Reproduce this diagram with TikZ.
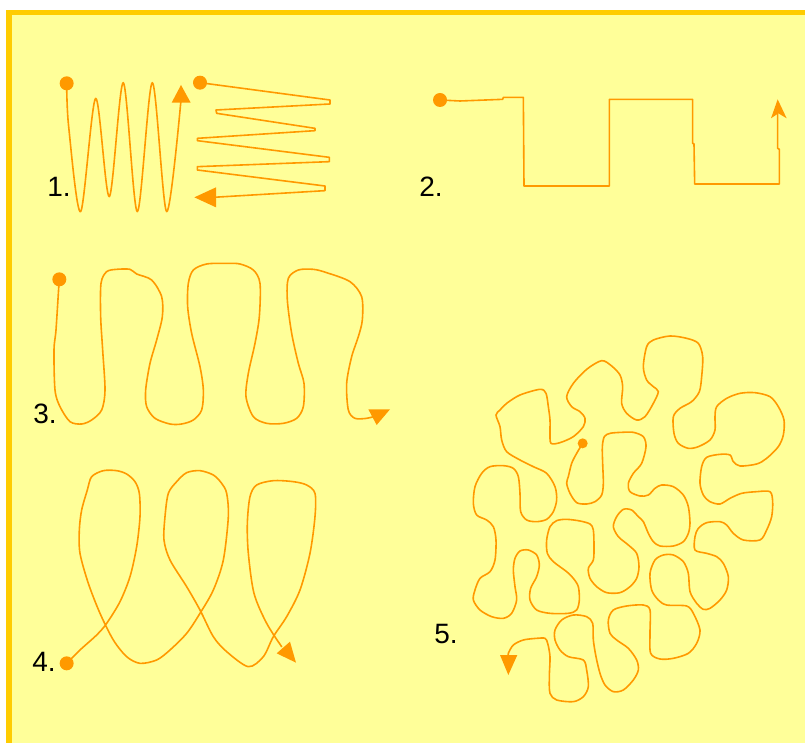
\documentclass[tikz,border=0pt]{standalone}
\usepackage{fontspec}
\setmainfont{Liberation Sans}
\definecolor{trailorange}{HTML}{FF9900}
\definecolor{padyellow}{HTML}{FFFF99}
\definecolor{framegold}{HTML}{FFCC00}

\begin{document}
\begin{tikzpicture}[x=1pt, y=-1pt,
    trail/.style={draw=trailorange, line width=1.6pt, line join=round, line cap=round},
    arrowhead/.style={fill=trailorange},
    startdot/.style={circle, fill=trailorange, inner sep=0pt, minimum size=14pt},
    smalldot/.style={startdot, minimum size=10pt},
    numlabel/.style={inner sep=0pt, font=\fontsize{28}{28}\selectfont}]

    \useasboundingbox (0,0) rectangle (805,743);
    \fill[white] (0,0) rectangle (805,743);
    \fill[framegold] (6,10) rectangle (805,743);
    \fill[padyellow] (12,15) rectangle (805,743);

    \node[numlabel] (lab1) at (59,187) {1.};
    \node[numlabel] (lab2) at (431,187) {2.};
    \node[numlabel] (lab3) at (45,414) {3.};
    \node[numlabel] (lab4) at (44,662) {4.};
    \node[numlabel] (lab5) at (446,634) {5.};

    \begin{scope}[scale=1/3]
      \draw[trail] plot[smooth, tension=0.5] coordinates {(200,250) (206,380) (242,635)
        (287,295) (328,590) (370,248) (412,635) (457,248) (500,635) (543,300)};
      \fill[arrowhead] (543,255) -- (572,308) -- (515,308) -- cycle;
      \node[startdot] (go1a) at (200,250) {};

      \draw[trail] (600,248) -- (990,300) -- (990,312) -- (648,330) -- (650,340)
        -- (945,385) -- (945,392) -- (592,415) -- (592,422) -- (988,472) -- (988,485)
        -- (592,500) -- (592,510) -- (975,558) -- (975,572) -- (640,592);
      \fill[arrowhead] (583,592) -- (648,562) -- (648,622) -- cycle;
      \node[startdot] (go1b) at (600,248) {};
    \end{scope}

    \begin{scope}[shift={(400,0)}, scale=1/3]
      \draw[trail] (120,300) -- (180,303) -- (308,298) -- (310,292) -- (370,292)
        -- (372,558) -- (628,558) -- (628,298) -- (878,298) -- (878,430) -- (882,432)
        -- (884,552) -- (1138,552) -- (1138,448) -- (1133,445) -- (1133,330);
      \fill[arrowhead] (1133,298) -- (1160,355) -- (1135,340) -- (1113,355) -- cycle;
      \node[startdot] (go2) at (120,300) {};
    \end{scope}

    \begin{scope}[shift={(0,250)}, scale=1/3]
      \draw[trail] plot[smooth, tension=0.5] coordinates {(178,88) (176,115) (168,240)
        (162,300) (165,420) (180,470) (210,515) (245,522) (275,510) (305,480) (315,420)
        (308,300) (302,200) (303,100) (320,65) (350,58) (390,58) (410,72) (455,90)
        (485,140) (487,200) (470,270) (450,340) (437,420) (440,470) (465,505) (510,522)
        (545,522) (580,510) (605,480) (610,420) (600,350) (575,250) (563,170) (565,100)
        (580,60) (620,42) (680,40) (720,42) (760,60) (780,100) (778,200) (765,280)
        (745,370) (738,440) (760,500) (800,520) (850,520) (890,505) (910,470) (912,400)
        (895,340) (875,250) (862,150) (865,85) (895,60) (940,58) (980,68) (1050,95)
        (1085,140) (1087,210) (1075,260) (1055,320) (1040,400) (1045,480) (1065,505)
        (1100,505) (1120,500)};
      \fill[arrowhead] (1105,478) -- (1170,478) -- (1130,525) -- cycle;
      \node[startdot] (go3) at (178,88) {};
    \end{scope}

    \begin{scope}[shift={(0,450)}, scale=1/3]
      \draw[trail] plot[smooth, tension=0.5] coordinates {(200,640) (240,600) (290,555)
        (320,520) (360,455) (390,380) (410,290) (420,200) (418,130) (405,95) (380,72)
        (350,62) (310,62) (275,80) (262,120) (245,180) (238,240) (240,310) (265,400)
        (300,490) (340,570) (380,620) (420,640) (470,630) (510,600) (560,550) (600,490)
        (640,420) (670,330) (685,200) (680,130) (665,100) (640,75) (600,62) (560,68)
        (530,95) (505,130) (495,200) (492,270) (510,330) (560,410) (600,480) (640,560)
        (680,605) (745,650) (790,620) (820,560) (860,500) (900,420) (930,310) (945,200)
        (945,130) (920,105) (880,95) (820,92) (770,105) (750,140) (742,220) (745,310)
        (762,430) (800,520) (845,590)};
      \fill[arrowhead] (870,575) -- (888,638) -- (830,610) -- cycle;
      \node[startdot] (go4) at (200,640) {};
    \end{scope}

    \begin{scope}[shift={(440,320)}, scale=1/3]
      \draw[trail] plot[smooth, tension=0.5] coordinates {(428,370) (410,400) (395,430)
        (385,470) (380,490) (390,520) (410,548) (440,552) (465,545) (485,525) (490,490)
        (488,430) (487,380) (493,350) (510,340) (545,337) (580,337) (610,350) (618,380)
        (605,430) (580,460) (565,490) (570,515) (600,528) (625,525) (645,505) (665,495)
        (700,500) (730,525) (745,560) (750,610) (745,640) (730,665) (700,678) (660,678)
        (640,665) (625,640) (610,605) (595,590) (575,570) (550,568) (530,590) (520,620)
        (535,650) (565,675) (590,700) (597,740) (590,775) (570,800) (540,818) (500,818)
        (470,800) (450,775) (445,745) (460,720) (462,680) (460,630) (450,612) (420,603)
        (380,598) (350,602) (330,620) (320,660) (322,700) (340,725) (380,755) (400,775)
        (415,800) (418,840) (410,870) (385,880) (330,880) (290,870) (270,840) (272,805)
        (290,770) (298,735) (290,705) (265,690) (240,693) (225,715) (220,750) (225,800)
        (230,840) (215,880) (190,895) (155,890) (120,870) (100,840) (105,810) (120,775)
        (150,755) (165,720) (168,660) (160,620) (140,600) (110,585) (100,550) (105,500)
        (125,460) (150,440) (190,437) (220,445) (235,470) (240,520) (242,575) (260,600)
        (290,605) (320,598) (340,575) (350,540) (345,500) (320,460) (280,440) (240,420)
        (200,395) (185,360) (180,320) (168,285) (180,270) (200,250) (240,225) (300,208)
        (318,220) (325,260) (330,300) (330,340) (333,370) (360,368) (400,350) (430,320)
        (435,295) (420,275) (395,260) (380,230) (400,190) (440,148) (485,122) (515,138)
        (540,165) (548,200) (545,250) (560,280) (590,300) (615,290) (640,250) (655,215)
        (640,200) (620,180) (610,140) (620,80) (640,60) (690,48) (740,55) (775,70)
        (788,110) (785,170) (778,215) (755,245) (720,265) (700,290) (702,340) (715,370)
        (745,385) (775,380) (810,360) (825,330) (825,290) (830,260) (860,235) (900,220)
        (945,218) (990,230) (1015,260) (1032,300) (1030,345) (1015,380) (980,415)
        (950,432) (900,438) (880,425) (870,405) (840,403) (800,412) (785,440) (780,490)
        (790,525) (810,545) (840,552) (870,535) (905,520) (950,515) (990,515) (998,545)
        (995,590) (980,630) (960,660) (910,660) (880,640) (860,615) (840,605) (800,608)
        (775,625) (765,650) (765,690) (800,700) (830,710) (850,730) (865,770) (860,810)
        (840,840) (810,865) (790,868) (770,850) (750,815) (745,760) (730,725) (700,705)
        (670,705) (645,720) (630,760) (635,810) (655,840) (680,855) (740,858) (760,880)
        (780,930) (770,970) (745,1000) (700,1015) (660,1017) (632,1000) (630,940)
        (630,870) (610,855) (560,858) (520,870) (505,900) (510,940) (530,960) (565,985)
        (590,1020) (595,1050) (580,1080) (550,1110) (520,1115) (495,1095) (480,1060)
        (468,1010) (460,960) (458,910) (440,890) (400,885) (365,900) (345,930) (345,960)
        (360,990) (385,1010) (430,1020) (440,1050) (445,1100) (430,1130) (400,1145)
        (350,1140) (330,1120) (328,1070) (330,1010) (323,970) (315,955) (290,955)
        (250,960) (220,975) (205,1000) (205,1010)};
      \fill[arrowhead] (180,1005) -- (232,1005) -- (205,1065) -- cycle;
      \node[smalldot] (go5) at (428,370) {};
    \end{scope}
\end{tikzpicture}
\end{document}
